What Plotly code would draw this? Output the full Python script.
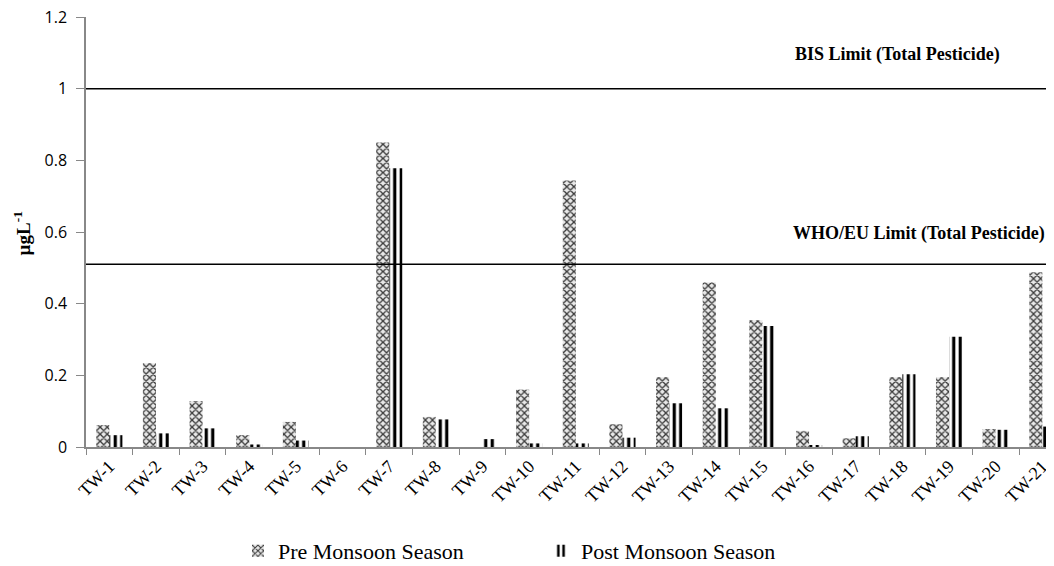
import plotly.graph_objects as go

categories = [f"TW-{i}" for i in range(1, 22)]
pre_monsoon = [0.061, 0.234, 0.128, 0.033, 0.070, 0.0, 0.850, 0.084, 0.0, 0.160, 0.744,
               0.064, 0.195, 0.460, 0.354, 0.045, 0.025, 0.195, 0.195, 0.050, 0.488]
post_monsoon = [0.033, 0.038, 0.052, 0.007, 0.018, 0.0, 0.778, 0.077, 0.022, 0.010, 0.010,
                0.026, 0.122, 0.108, 0.338, 0.005, 0.030, 0.203, 0.308, 0.048, 0.057]
limit_names = ["BIS Limit (Total Pesticide)", "WHO/EU Limit (Total Pesticide)"]
limit_values = [1.0, 0.51]
y_ticks = [0, 0.2, 0.4, 0.6, 0.8, 1.0, 1.2]
y_tick_text = ["0", "0.2", "0.4", "0.6", "0.8", "1", "1.2"]

serif = "Liberation Serif"
sans = "Open Sans"

fig = go.Figure()
fig.add_trace(go.Bar(
    x=categories, y=pre_monsoon, name="Pre Monsoon Season",
    marker=dict(color="#d0d0d0", line=dict(width=0),
                pattern=dict(shape="x", fgcolor="#3a3a3a", bgcolor="#e8e8e8",
                             fgopacity=1, size=5, solidity=0.45, fillmode="replace")),
))
fig.add_trace(go.Bar(
    x=categories, y=post_monsoon, name="Post Monsoon Season",
    marker=dict(color="white", line=dict(width=0),
                pattern=dict(shape="|", fgcolor="black", bgcolor="white",
                             fgopacity=1, size=6.5, solidity=0.5, fillmode="replace")),
))

for name, val, xpos, ypos in zip(limit_names, limit_values, [0.946, 0.993], [1.094, 0.596]):
    fig.add_shape(type="line", xref="paper", yref="y", x0=0, x1=1, y0=val, y1=val,
                  line=dict(color="black", width=1.5))
    fig.add_annotation(xref="paper", yref="y", x=xpos, y=ypos, text=f"<b>{name}</b>",
                       showarrow=False, xanchor="right", yanchor="middle",
                       font=dict(family=serif, size=18, color="black"))

fig.add_annotation(xref="paper", yref="paper", x=-0.066, y=0.497,
                   text="<b>µgL<sup>-1</sup></b>", textangle=-90, showarrow=False,
                   xanchor="center", yanchor="middle",
                   font=dict(family=serif, size=19, color="black"))

fig.update_layout(
    width=1046, height=558,
    margin=dict(l=78, r=0, t=9, b=119, autoexpand=False),
    paper_bgcolor="white", plot_bgcolor="white",
    barmode="group", bargap=0.44, bargroupgap=0,
    showlegend=True,
    legend=dict(orientation="h", x=0.157, xref="paper", y=0.027, yref="container",
                xanchor="left", yanchor="middle",
                font=dict(family=serif, size=22, color="black"),
                entrywidth=258, itemwidth=30, traceorder="normal"),
    xaxis=dict(type="category", range=[-0.5, 20.25],
               showline=True, linecolor="#888888", linewidth=1.5,
               ticks="outside", tickson="boundaries", ticklen=6, tickcolor="#888888",
               tickangle=-45, tickfont=dict(family=serif, size=18, color="black"),
               showgrid=False, automargin=False, ticklabeloverflow="allow"),
    yaxis=dict(range=[0, 1.2], tickvals=y_ticks, ticktext=y_tick_text,
               showline=True, linecolor="#888888", linewidth=1.5,
               ticks="outside", ticklen=8, tickcolor="#888888", ticklabelstandoff=6,
               tickfont=dict(family=sans, size=16, color="black"),
               showgrid=False, zeroline=False, automargin=False,
               ticklabeloverflow="allow"),
)

fig.write_html("out.html")
